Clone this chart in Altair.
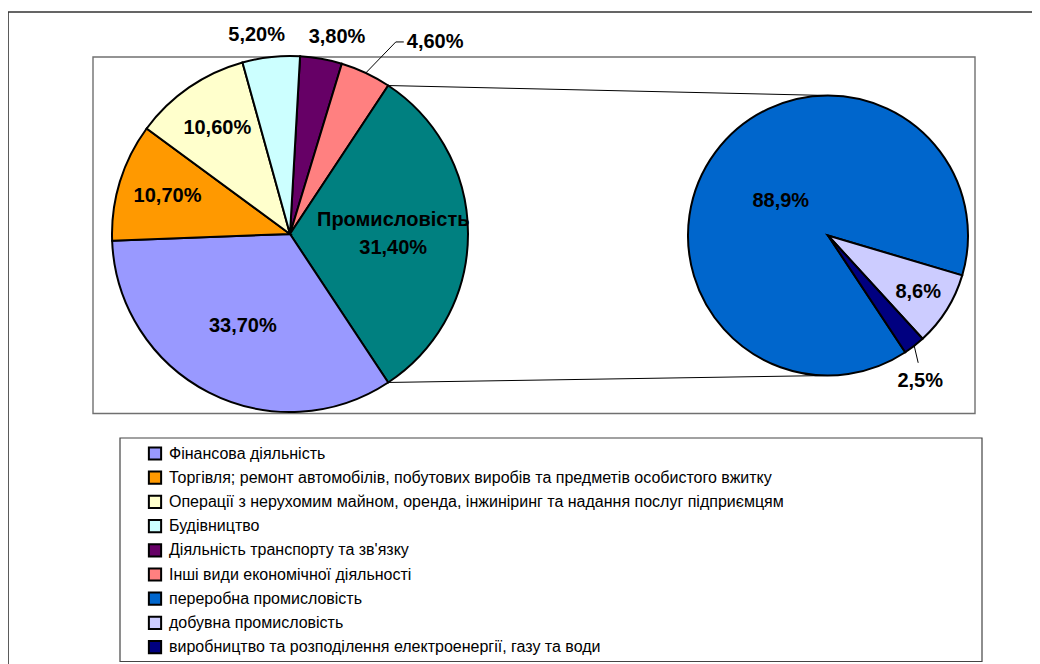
import math
import pandas as pd
import altair as alt

# ---------------- data ----------------
main_cats = [
    "Діяльність транспорту та зв'язку",
    "Інші види економічної діяльності",
    "Промисловість",
    "Фінансова діяльність",
    "Торгівля; ремонт автомобілів, побутових виробів та предметів особистого вжитку",
    "Операції з нерухомим майном, оренда, інжиніринг та надання послуг підприємцям",
    "Будівництво",
]
main_vals = [3.8, 4.6, 31.4, 33.7, 10.7, 10.6, 5.2]

sec_cats = [
    "переробна промисловість",
    "добувна промисловість",
    "виробництво та розподілення електроенергії, газу та води",
]
sec_vals = [88.9, 8.6, 2.5]

legend_cats = [
    "Фінансова діяльність",
    "Торгівля; ремонт автомобілів, побутових виробів та предметів особистого вжитку",
    "Операції з нерухомим майном, оренда, інжиніринг та надання послуг підприємцям",
    "Будівництво",
    "Діяльність транспорту та зв'язку",
    "Інші види економічної діяльності",
    "переробна промисловість",
    "добувна промисловість",
    "виробництво та розподілення електроенергії, газу та води",
]
other_cat = "Промисловість"

# ---------------- style ----------------
colors = {
    "Фінансова діяльність": "#9999FF",
    "Торгівля; ремонт автомобілів, побутових виробів та предметів особистого вжитку": "#FF9900",
    "Операції з нерухомим майном, оренда, інжиніринг та надання послуг підприємцям": "#FFFFCC",
    "Будівництво": "#CCFFFF",
    "Діяльність транспорту та зв'язку": "#660066",
    "Інші види економічної діяльності": "#FF8080",
    "переробна промисловість": "#0066CC",
    "добувна промисловість": "#CCCCFF",
    "виробництво та розподілення електроенергії, газу та води": "#000080",
    "Промисловість": "#008080",
}
FONT = "Liberation Sans"
OFF = 8  # page margin
CX, CY, R = 290 - OFF, 234 - OFF, 178
CX2, CY2, R2 = 828 - OFF, 235.5 - OFF, 140
SEC_START_DEG = 146.5
leader_main = ["Інші види економічної діяльності"]
leader_sec = ["виробництво та розподілення електроенергії, газу та води"]


def pct(v, d):
    return (f"{v:.{d}f}").replace(".", ",") + "%"


def polar(cx, cy, r, deg):
    a = math.radians(deg)
    return cx + r * math.sin(a), cy - r * math.cos(a)


# ---------- main pie table ----------
m_kind, m_txt = [], []
for c, v in zip(main_cats, main_vals):
    if c == other_cat:
        m_kind.append("in"); m_txt.append(c + "\n" + pct(v, 2))
    elif c in leader_main:
        m_kind.append("leader"); m_txt.append("")
    elif v >= 6:
        m_kind.append("in"); m_txt.append(pct(v, 2))
    else:
        m_kind.append("out"); m_txt.append(pct(v, 2))
main_df = pd.DataFrame({"cat": main_cats, "v": main_vals, "ord": range(len(main_cats)),
                        "kind": m_kind, "txt": m_txt})

tot = sum(main_vals)
i_o = main_cats.index(other_cat)
before = sum(main_vals[:i_o])
start_deg = 90 - (before + main_vals[i_o] / 2) / tot * 360
a0 = math.radians(start_deg)

cum = 0
m_ang = {}
for c, v in zip(main_cats, main_vals):
    s = start_deg + cum / tot * 360
    e = start_deg + (cum + v) / tot * 360
    m_ang[c] = (s, e)
    cum += v

# ---------- secondary pie table ----------
s_kind, s_txt = [], []
for c, v in zip(sec_cats, sec_vals):
    if c in leader_sec:
        s_kind.append("leader"); s_txt.append("")
    elif v > 50:
        s_kind.append("big"); s_txt.append(pct(v, 1))
    else:
        s_kind.append("in"); s_txt.append(pct(v, 1))
sec_df = pd.DataFrame({"cat": sec_cats, "v": sec_vals, "ord": range(len(sec_cats)),
                       "kind": s_kind, "txt": s_txt})
stot = sum(sec_vals)
cum = 0
s_ang = {}
for c, v in zip(sec_cats, sec_vals):
    s = SEC_START_DEG + cum / stot * 360
    e = SEC_START_DEG + (cum + v) / stot * 360
    s_ang[c] = (s, e)
    cum += v
b0 = math.radians(SEC_START_DEG)

# ---------- color scale / legend ----------
dom = legend_cats + [other_cat]
color_enc = alt.Color(
    "cat:N",
    scale=alt.Scale(domain=dom, range=[colors[c] for c in dom]),
    legend=alt.Legend(
        values=legend_cats, orient="none", legendX=139, legendY=437.5, title=None,
        symbolType="square", symbolSize=150, symbolStrokeColor="black",
        symbolStrokeWidth=2, symbolOpacity=1, labelFont=FONT, labelFontSize=16,
        labelColor="black", rowPadding=2.2, labelLimit=0, padding=0, labelOffset=6,
        direction="vertical",
    ),
)

# ---------- frames ----------
one = pd.DataFrame({"a": [0]})
outer = alt.Chart(one).mark_rect(fillOpacity=0, stroke="#333333", strokeWidth=1.6).encode(
    x=alt.value(0), x2=alt.value(1045), y=alt.value(12 - OFF), y2=alt.value(670))
plot_box = alt.Chart(one).mark_rect(fill="white", stroke="#707070", strokeWidth=1.4).encode(
    x=alt.value(93 - OFF), x2=alt.value(975 - OFF), y=alt.value(57 - OFF), y2=alt.value(413.5 - OFF))
legend_box = alt.Chart(one).mark_rect(fill="white", stroke="#444444", strokeWidth=1.2).encode(
    x=alt.value(120 - OFF), x2=alt.value(982 - OFF), y=alt.value(438 - OFF), y2=alt.value(661.5 - OFF))

# ---------- connectors and leaders ----------
ts, te = m_ang[other_cat]
p1 = polar(CX, CY, R, ts)
p2 = polar(CX, CY, R, te)
lines = []
lines.append((p1[0], p1[1], CX2, CY2 - R2))
lines.append((p2[0], p2[1], CX2, CY2 + R2))

lbl_left = []
for c in leader_main:
    s, e = m_ang[c]
    st = polar(CX, CY, R, (s + e) / 2)
    en = (st[0] + 30, st[1] - 31)
    tl = (en[0] + 8, en[1])
    lines.append((st[0], st[1], en[0], en[1]))
    lines.append((en[0], en[1], tl[0], tl[1]))
    lbl_left.append((tl[0] + 3, tl[1], pct(main_vals[main_cats.index(c)], 2)))

lbl_center = []
for c in leader_sec:
    s, e = s_ang[c]
    st = polar(CX2, CY2, R2, (s + e) / 2)
    en = (st[0] + 4, st[1] + 17)
    lines.append((st[0], st[1], en[0], en[1]))
    lbl_center.append((en[0] + 2, en[1] + 18, pct(sec_vals[sec_cats.index(c)], 1)))

lines_df = pd.DataFrame(lines, columns=["x", "y", "x2", "y2"])
rules = alt.Chart(lines_df).mark_rule(color="black", strokeWidth=1).encode(
    x=alt.X("x:Q", scale=None, axis=None), y=alt.Y("y:Q", scale=None, axis=None),
    x2="x2:Q", y2="y2:Q")

lbl_left_df = pd.DataFrame(lbl_left, columns=["x", "y", "t"])
lbl_center_df = pd.DataFrame(lbl_center, columns=["x", "y", "t"])
txt_style = dict(font=FONT, fontSize=20, fontWeight="bold", color="black", baseline="middle")
left_lbl = alt.Chart(lbl_left_df).mark_text(align="left", **txt_style).encode(
    x=alt.X("x:Q", scale=None, axis=None), y=alt.Y("y:Q", scale=None, axis=None), text="t:N")
center_lbl = alt.Chart(lbl_center_df).mark_text(align="center", **txt_style).encode(
    x=alt.X("x:Q", scale=None, axis=None), y=alt.Y("y:Q", scale=None, axis=None), text="t:N")


def pie_labels(df, start_rad, radius_expr, cx, cy, **kw):
    return alt.Chart(df).transform_joinaggregate(
        total="sum(v)"
    ).transform_window(
        cum="sum(v)", sort=[alt.SortField("ord")], frame=[None, 0]
    ).transform_calculate(
        mid=f"{start_rad} + 2*PI*(datum.cum - datum.v/2)/datum.total",
    ).transform_calculate(
        lr=radius_expr,
    ).transform_calculate(
        hoff="datum.kind == 'out' ? (sin(datum.mid) < 0 ? -12 : 12) : 0",
        voff="indexof(datum.txt, '\\n') >= 0 ? -14 : 0",
    ).transform_calculate(
        lx=f"{cx} + datum.lr*sin(datum.mid) + datum.hoff",
        ly=f"{cy} - datum.lr*cos(datum.mid) + datum.voff",
    ).mark_text(align="center", **txt_style, **kw).encode(
        text="txt:N",
        x=alt.X("lx:Q", scale=None, axis=None),
        y=alt.Y("ly:Q", scale=None, axis=None),
    )


# ---------- main pie ----------
main_arc = alt.Chart(main_df).mark_arc(radius=R, stroke="black", strokeWidth=2).encode(
    theta=alt.Theta("v:Q", stack=True, scale=alt.Scale(range=[a0, a0 + 2 * math.pi])),
    order=alt.Order("ord:Q"),
    color=color_enc, x=alt.value(CX), y=alt.value(CY))
main_txt = pie_labels(
    main_df, a0,
    f"datum.kind == 'in' ? (datum.v > 20 ? {R * 0.58} : {R * 0.72}) : {R + 22}",
    CX, CY, lineBreak="\n", lineHeight=28)

# ---------- secondary pie ----------
sec_arc = alt.Chart(sec_df).mark_arc(radius=R2, stroke="black", strokeWidth=2).encode(
    theta=alt.Theta("v:Q", stack=True, scale=alt.Scale(range=[b0, b0 + 2 * math.pi])),
    order=alt.Order("ord:Q"),
    color=color_enc, x=alt.value(CX2), y=alt.value(CY2))
sec_txt = pie_labels(sec_df, b0, f"datum.kind == 'big' ? {R2 * 0.42} : {R2 * 0.76}",
                     CX2, CY2)

chart = alt.layer(
    outer, plot_box, legend_box, rules, main_arc, sec_arc, main_txt, sec_txt,
    left_lbl, center_lbl
).resolve_scale(theta="independent").properties(
    width=1024, height=656, padding=0,
    autosize=alt.AutoSizeParams(type="none"),
    background="white",
).configure_view(strokeWidth=0)

chart.save("out.html", embed_options={"renderer": "svg", "actions": False})
